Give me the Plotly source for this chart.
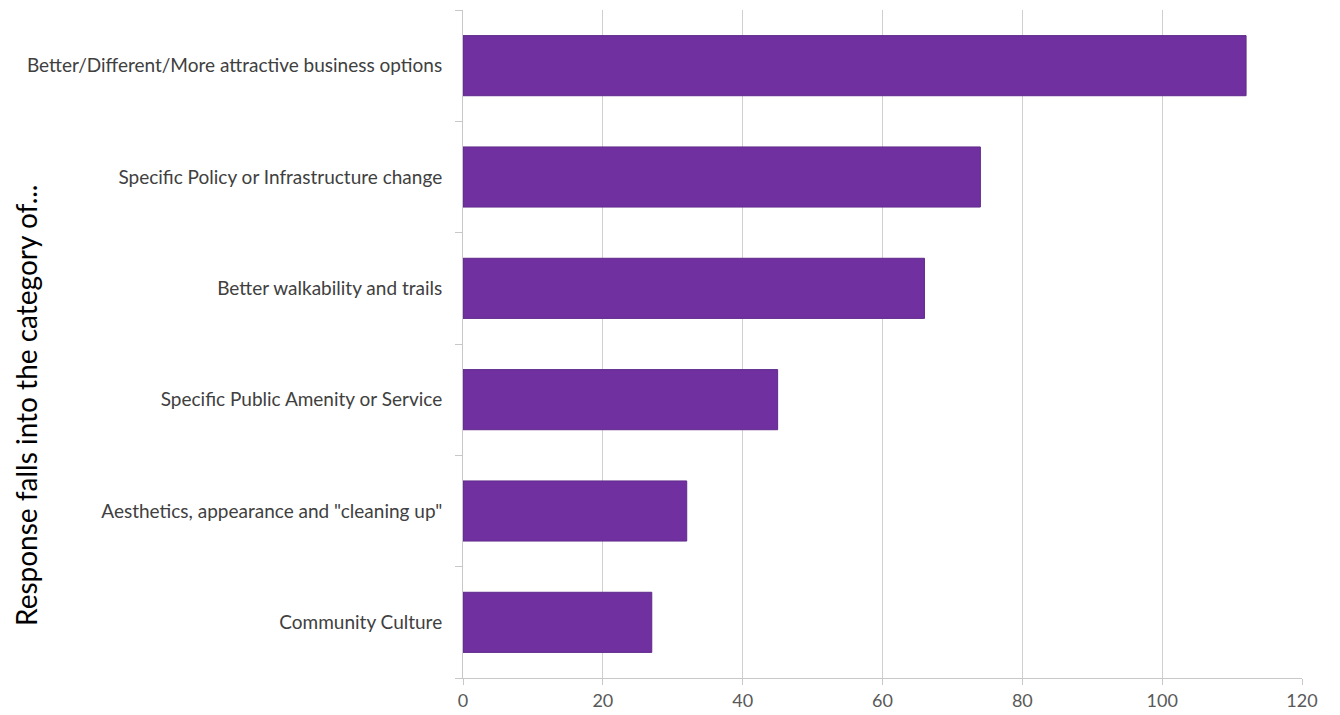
import plotly.graph_objects as go

# Survey response categories (top to bottom) and their counts
categories = [
    "Better/Different/More attractive business options",
    "Specific Policy or Infrastructure change",
    "Better walkability and trails",
    "Specific Public Amenity or Service",
    "Aesthetics, appearance and \"cleaning up\"",
    "Community Culture",
]
counts = [112, 74, 66, 45, 32, 27]

x_ticks = [0, 20, 40, 60, 80, 100, 120]
axis_title = "Response falls into the category of..."

FONT = "Lato, Open Sans, sans-serif"

# Plot area geometry in pixels
W, H = 1340, 715
ML, MR, MT, MB = 463, 38, 10, 37
PW, PH = W - ML - MR, H - MT - MB

fig = go.Figure(
    go.Bar(
        x=counts,
        y=categories,
        orientation="h",
        marker=dict(color="#7030a0", line=dict(color="#5f2a8c", width=1)),
        width=0.54,
        hoverinfo="x+y",
    )
)

fig.update_layout(
    width=W,
    height=H,
    margin=dict(l=ML, r=MR, t=MT, b=MB, autoexpand=False),
    paper_bgcolor="white",
    plot_bgcolor="white",
    showlegend=False,
    font=dict(family=FONT, color="#404040"),
    xaxis=dict(
        range=[0, 120],
        tickvals=x_ticks,
        ticktext=[str(v) for v in x_ticks],
        showgrid=True,
        gridcolor="#d0d0d0",
        gridwidth=1,
        zeroline=False,
        showline=True,
        linecolor="#c8c8c8",
        linewidth=1,
        ticks="outside",
        ticklen=6,
        tickcolor="#c8c8c8",
        tickfont=dict(size=18, color="#595959", family=FONT),
        automargin=False,
        fixedrange=True,
    ),
    yaxis=dict(
        categoryorder="array",
        categoryarray=categories[::-1],
        range=[-0.5, len(categories) - 0.5],
        showgrid=False,
        zeroline=False,
        showline=True,
        linecolor="#c8c8c8",
        linewidth=1,
        ticks="outside",
        tickson="boundaries",
        ticklen=7,
        tickcolor="#c8c8c8",
        ticklabelstandoff=16,
        tickfont=dict(size=19, color="#404040", family=FONT),
        automargin=False,
        fixedrange=True,
    ),
    annotations=[
        dict(
            text=axis_title,
            textangle=-90,
            xref="paper",
            yref="paper",
            x=(26 - ML) / PW,
            y=(H - MB - 405) / PH,
            xanchor="center",
            yanchor="middle",
            showarrow=False,
            font=dict(size=28, color="#000000", family=FONT),
        )
    ],
)

fig.write_html("out.html")
